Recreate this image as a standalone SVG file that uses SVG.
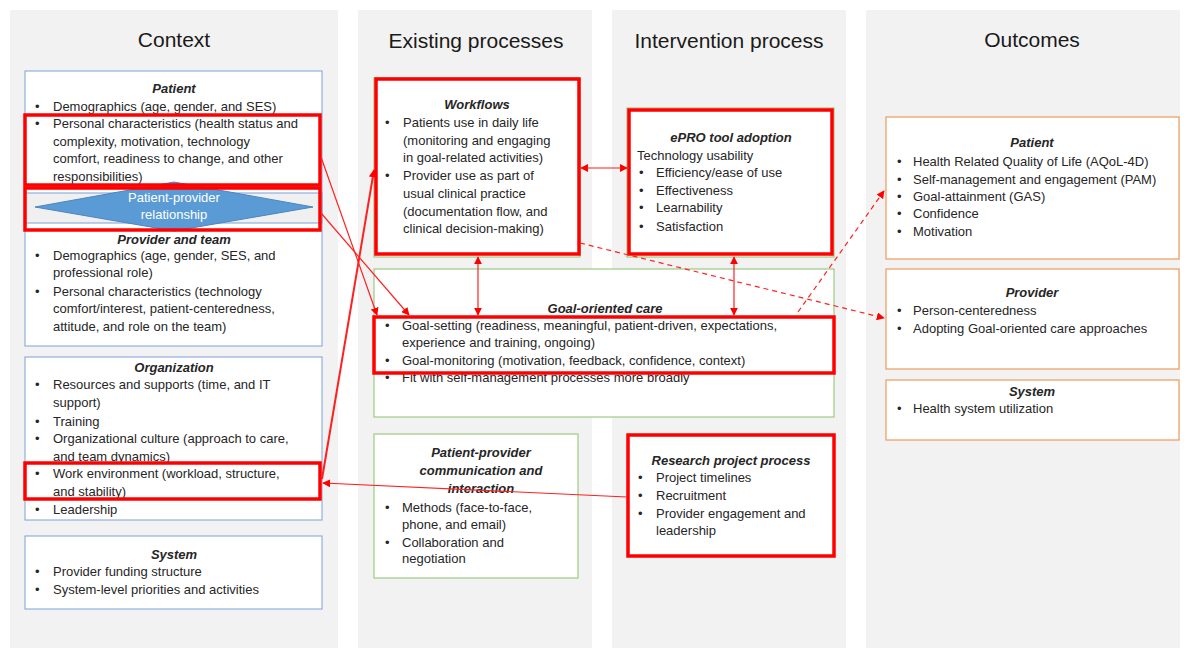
<svg xmlns="http://www.w3.org/2000/svg" width="1190" height="648" viewBox="0 0 1190 648">
<style>
.col{fill:#f2f2f2}
.hd{font-family:"Liberation Sans",Arial,sans-serif;font-size:21px;fill:#1a1a1a;text-anchor:middle}
text{font-family:"Liberation Sans",Arial,sans-serif;font-size:13px;fill:#262626}
.t{font-weight:bold;font-style:italic;text-anchor:middle}
.c{text-anchor:middle}
.blue{fill:#fff;stroke:#7fa0d8;stroke-width:1}
.green{fill:#fff;stroke:#8cc06a;stroke-width:1}
.orange{fill:#fff;stroke:#ee9a5e;stroke-width:1.2}
.red{fill:none;stroke:#ff0000;stroke-width:3.5}
.redf{fill:#fff;stroke:#ff0000;stroke-width:3.5}
.ln{stroke:#ff2020;stroke-width:1.2;fill:none}
.dash{stroke:#ff2020;stroke-width:1.2;fill:none;stroke-dasharray:5 4}
</style>
<defs>
<marker id="ah" viewBox="0 0 10 10" refX="9" refY="5" markerWidth="8" markerHeight="8" markerUnits="userSpaceOnUse" orient="auto-start-reverse">
<path d="M0,0 L10,5 L0,10 z" fill="#ff0000"/>
</marker>
</defs>
<rect width="1190" height="648" fill="#fff"/>
<g id="columns">
<rect class="col" x="10" y="10" width="328" height="638"/>
<rect class="col" x="358" y="10" width="234" height="638"/>
<rect class="col" x="612" y="10" width="234" height="638"/>
<rect class="col" x="866" y="10" width="314" height="638"/>
<text class="hd" x="174" y="47">Context</text>
<text class="hd" x="476" y="48">Existing processes</text>
<text class="hd" x="729" y="48">Intervention process</text>
<text class="hd" x="1032" y="47">Outcomes</text>
</g>

<g id="context-patient-provider">
<rect class="blue" x="25" y="71" width="297" height="275"/>
<text class="t" x="174" y="93">Patient</text>
<text x="35" y="111">•</text><text x="53" y="111">Demographics (age, gender, and SES)</text>
<text x="35" y="128">•</text><text x="53" y="128">Personal characteristics (health status and</text>
<text x="53" y="146">complexity, motivation, technology</text>
<text x="53" y="163">comfort, readiness to change, and other</text>
<text x="53" y="181">responsibilities)</text>
<rect x="25" y="193" width="297" height="30" fill="#f0f0f0" stroke="#7fa0d8" stroke-width="1"/>
<text class="t" x="174" y="244">Provider and team</text>
<text x="35" y="260">•</text><text x="53" y="260">Demographics (age, gender, SES, and</text>
<text x="53" y="277">professional role)</text>
<text x="35" y="296">•</text><text x="53" y="296">Personal characteristics (technology</text>
<text x="53" y="313">comfort/interest, patient-centeredness,</text>
<text x="53" y="331">attitude, and role on the team)</text>
</g>
<g id="relationship">
<polygon points="35,207 174,182 313,207 174,231" fill="#5b9bd5" stroke="#4a86c0" stroke-width="1"/>
<text class="c" x="174" y="202" style="fill:#fff">Patient-provider</text>
<text class="c" x="174" y="219" style="fill:#fff">relationship</text>
</g>
<g id="context-highlights">
<rect class="red" x="25" y="115" width="295" height="70"/>
<rect class="red" x="25" y="188" width="295" height="42"/>
</g>

<g id="context-organization">
<rect class="blue" x="25" y="357" width="297" height="163"/>
<text class="t" x="174" y="372">Organization</text>
<text x="35" y="389">•</text><text x="53" y="389">Resources and supports (time, and IT</text>
<text x="53" y="407">support)</text>
<text x="35" y="426">•</text><text x="53" y="426">Training</text>
<text x="35" y="443">•</text><text x="53" y="443">Organizational culture (approach to care,</text>
<text x="53" y="461">and team dynamics)</text>
<text x="35" y="478">•</text><text x="53" y="478">Work environment (workload, structure,</text>
<text x="53" y="496">and stability)</text>
<text x="35" y="514">•</text><text x="53" y="514">Leadership</text>
<rect class="red" x="25" y="463" width="295" height="36"/>
</g>

<g id="context-system">
<rect class="blue" x="25" y="536" width="297" height="73"/>
<text class="t" x="174" y="559">System</text>
<text x="35" y="576">•</text><text x="53" y="576">Provider funding structure</text>
<text x="35" y="594">•</text><text x="53" y="594">System-level priorities and activities</text>
</g>

<g id="workflows">
<rect class="green" x="374" y="78" width="206" height="179"/>
<rect class="redf" x="376" y="79" width="203" height="175"/>
<text class="t" x="477" y="109">Workflows</text>
<text x="385" y="127">•</text><text x="403" y="127">Patients use in daily life</text>
<text x="403" y="145">(monitoring and engaging</text>
<text x="403" y="162">in goal-related activities)</text>
<text x="385" y="180">•</text><text x="403" y="180">Provider use as part of</text>
<text x="403" y="198">usual clinical practice</text>
<text x="403" y="216">(documentation flow, and</text>
<text x="403" y="233">clinical decision-making)</text>
</g>

<g id="epro">
<rect class="green" x="627" y="108" width="207" height="149"/>
<rect class="redf" x="629" y="110" width="203" height="144"/>
<text class="t" x="731" y="142">ePRO tool adoption</text>
<text x="637" y="160">Technology usability</text>
<text x="639" y="177">•</text><text x="656" y="177">Efficiency/ease of use</text>
<text x="639" y="195">•</text><text x="656" y="195">Effectiveness</text>
<text x="639" y="212">•</text><text x="656" y="212">Learnability</text>
<text x="639" y="231">•</text><text x="656" y="231">Satisfaction</text>
</g>

<g id="goal-oriented-care">
<rect class="green" x="374" y="269" width="460" height="148"/>
<text class="t" x="605" y="313">Goal-oriented care</text>
<text x="385" y="330">•</text><text x="402" y="330">Goal-setting (readiness, meaningful, patient-driven, expectations,</text>
<text x="402" y="347">experience and training, ongoing)</text>
<text x="385" y="365">•</text><text x="402" y="365">Goal-monitoring (motivation, feedback, confidence, context)</text>
<text x="385" y="382">•</text><text x="402" y="382">Fit with self-management processes more broadly</text>
<rect class="red" x="374" y="317" width="460" height="56"/>
</g>

<g id="communication">
<rect class="green" x="374" y="434" width="204" height="144"/>
<text class="t" x="481" y="457">Patient-provider</text>
<text class="t" x="481" y="475">communication and</text>
<text class="t" x="481" y="493">interaction</text>
<text x="385" y="512">•</text><text x="402" y="512">Methods (face-to-face,</text>
<text x="402" y="529">phone, and email)</text>
<text x="385" y="547">•</text><text x="402" y="547">Collaboration and</text>
<text x="402" y="563">negotiation</text>
</g>

<g id="research">
<rect class="redf" x="628" y="435" width="206" height="121"/>
<text class="t" x="731" y="465">Research project process</text>
<text x="638" y="482">•</text><text x="656" y="482">Project timelines</text>
<text x="638" y="500">•</text><text x="656" y="500">Recruitment</text>
<text x="638" y="518">•</text><text x="656" y="518">Provider engagement and</text>
<text x="656" y="535">leadership</text>
</g>

<g id="outcome-patient">
<rect class="orange" x="886" y="117" width="293" height="142"/>
<text class="t" x="1032" y="147">Patient</text>
<text x="897" y="166">•</text><text x="913" y="166">Health Related Quality of Life (AQoL-4D)</text>
<text x="897" y="184">•</text><text x="913" y="184">Self-management and engagement (PAM)</text>
<text x="897" y="201">•</text><text x="913" y="201">Goal-attainment (GAS)</text>
<text x="897" y="218">•</text><text x="913" y="218">Confidence</text>
<text x="897" y="236">•</text><text x="913" y="236">Motivation</text>
</g>
<g id="outcome-provider">
<rect class="orange" x="886" y="269" width="293" height="100"/>
<text class="t" x="1032" y="297">Provider</text>
<text x="897" y="315">•</text><text x="913" y="315">Person-centeredness</text>
<text x="897" y="333">•</text><text x="913" y="333">Adopting Goal-oriented care approaches</text>
</g>
<g id="outcome-system">
<rect class="orange" x="886" y="380" width="293" height="60"/>
<text class="t" x="1032" y="396">System</text>
<text x="897" y="413">•</text><text x="913" y="413">Health system utilization</text>
</g>

<g id="connectors">
<line class="ln" x1="321" y1="157" x2="377" y2="315" marker-end="url(#ah)"/>
<line class="ln" x1="321" y1="213" x2="409" y2="315" marker-end="url(#ah)"/>
<line class="ln" x1="322" y1="479" x2="374" y2="170" marker-end="url(#ah)" style="stroke-width:2"/>
<line class="ln" x1="627" y1="497" x2="323" y2="483" marker-end="url(#ah)"/>
<line class="ln" x1="581" y1="168" x2="627" y2="168" marker-start="url(#ah)" marker-end="url(#ah)"/>
<line class="ln" x1="478" y1="257" x2="478" y2="315" marker-start="url(#ah)" marker-end="url(#ah)"/>
<line class="ln" x1="734" y1="257" x2="734" y2="315" marker-start="url(#ah)" marker-end="url(#ah)"/>
<line class="dash" x1="580" y1="243" x2="884" y2="318" marker-end="url(#ah)"/>
<line class="dash" x1="798" y1="312" x2="884" y2="191" marker-end="url(#ah)"/>
</g>
</svg>
